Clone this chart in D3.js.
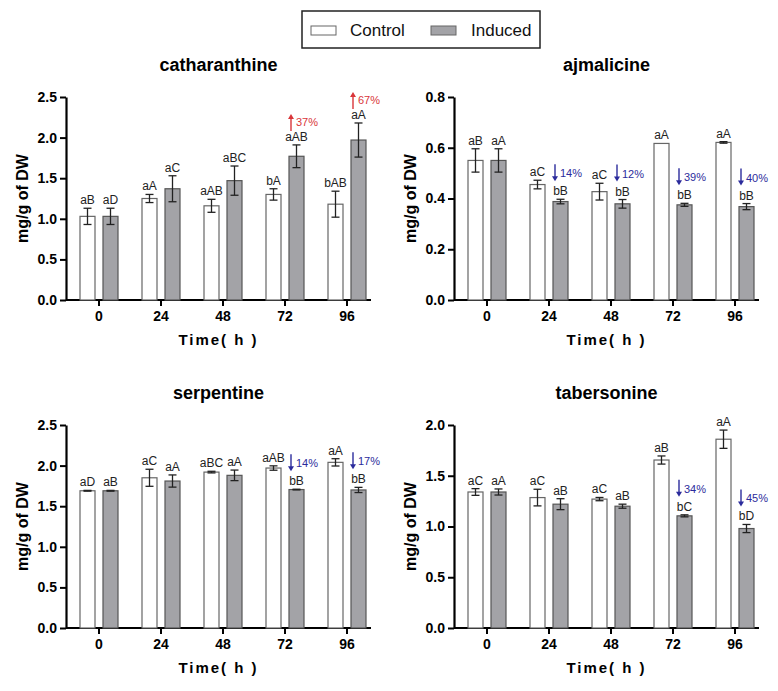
<!DOCTYPE html>
<html>
<head>
<meta charset="utf-8">
<script src="https://cdn.jsdelivr.net/npm/d3@7"></script>
<style>
  body { margin: 0; background: #fff; }
  svg { font-family: "Liberation Sans", Arial, sans-serif; }
</style>
</head>
<body>
<div class="canvas"></div>
<script>
const [width, height] = [778, 691];

const times = ['0', '24', '48', '72', '96'];

// catharanthine
const cathCtrl = [1.03, 1.25, 1.16, 1.30, 1.18];
const cathCtrlErr = [0.10, 0.05, 0.08, 0.07, 0.16];
const cathInd = [1.03, 1.37, 1.47, 1.77, 1.97];
const cathIndErr = [0.10, 0.16, 0.18, 0.14, 0.21];
const cathCtrlLet = ['aB', 'aA', 'aAB', 'bA', 'bAB'];
const cathIndLet = ['aD', 'aC', 'aBC', 'aAB', 'aA'];
const cathNotes = ['', '', '', '37%', '67%'];

// ajmalicine
const ajmCtrl = [0.55, 0.455, 0.427, 0.617, 0.621];
const ajmCtrlErr = [0.046, 0.017, 0.033, 0.0, 0.003];
const ajmInd = [0.55, 0.388, 0.379, 0.375, 0.368];
const ajmIndErr = [0.046, 0.009, 0.017, 0.006, 0.012];
const ajmCtrlLet = ['aB', 'aC', 'aC', 'aA', 'aA'];
const ajmIndLet = ['aA', 'bB', 'bB', 'bB', 'bB'];
const ajmNotes = ['', '14%', '12%', '39%', '40%'];

// serpentine
const serpCtrl = [1.69, 1.85, 1.92, 1.97, 2.04];
const serpCtrlErr = [0.005, 0.105, 0.01, 0.027, 0.045];
const serpInd = [1.69, 1.81, 1.88, 1.705, 1.70];
const serpIndErr = [0.005, 0.075, 0.065, 0.004, 0.032];
const serpCtrlLet = ['aD', 'aC', 'aBC', 'aAB', 'aA'];
const serpIndLet = ['aB', 'aA', 'aA', 'bB', 'bB'];
const serpNotes = ['', '', '', '14%', '17%'];

// tabersonine
const tabCtrl = [1.34, 1.285, 1.27, 1.655, 1.86];
const tabCtrlErr = [0.033, 0.082, 0.016, 0.04, 0.09];
const tabInd = [1.34, 1.22, 1.20, 1.105, 0.98];
const tabIndErr = [0.03, 0.054, 0.02, 0.01, 0.04];
const tabCtrlLet = ['aC', 'aC', 'aC', 'aB', 'aA'];
const tabIndLet = ['aA', 'aB', 'aB', 'bC', 'bD'];
const tabNotes = ['', '', '', '34%', '45%'];

const panels = [
  {title: 'catharanthine', ctrl: cathCtrl, ctrlErr: cathCtrlErr, ind: cathInd, indErr: cathIndErr,
   ctrlLet: cathCtrlLet, indLet: cathIndLet, notes: cathNotes, up: true, max: 2.5, step: 0.5, left: 66, top: 97},
  {title: 'ajmalicine', ctrl: ajmCtrl, ctrlErr: ajmCtrlErr, ind: ajmInd, indErr: ajmIndErr,
   ctrlLet: ajmCtrlLet, indLet: ajmIndLet, notes: ajmNotes, up: false, max: 0.8, step: 0.2, left: 454, top: 97},
  {title: 'serpentine', ctrl: serpCtrl, ctrlErr: serpCtrlErr, ind: serpInd, indErr: serpIndErr,
   ctrlLet: serpCtrlLet, indLet: serpIndLet, notes: serpNotes, up: false, max: 2.5, step: 0.5, left: 66, top: 425},
  {title: 'tabersonine', ctrl: tabCtrl, ctrlErr: tabCtrlErr, ind: tabInd, indErr: tabIndErr,
   ctrlLet: tabCtrlLet, indLet: tabIndLet, notes: tabNotes, up: false, max: 2.0, step: 0.5, left: 454, top: 425}
];

const svg = d3.select('.canvas')
  .append('svg')
  .attr('width', width)
  .attr('height', height);

const plotW = 305, plotH = 203;
const barW = 15, barGap = 8;
const ctrlFill = '#ffffff', indFill = '#a3a3a7';
const upColor = '#d9363a', downColor = '#2b2b9c';

// legend
const legend = svg.append('g');
legend.append('rect').attr('x', 302).attr('y', 11).attr('width', 238).attr('height', 37)
  .attr('fill', 'none').attr('stroke', '#222').attr('stroke-width', 1.5);
[['Control', ctrlFill, 311, 350], ['Induced', indFill, 431, 471]].forEach(([name, fill, sx, tx]) => {
  legend.append('rect').attr('x', sx).attr('y', 26).attr('width', 25).attr('height', 9)
    .attr('fill', fill).attr('stroke', '#666').attr('stroke-width', 1);
  legend.append('text').attr('x', tx).attr('y', 36).attr('font-size', 17).attr('fill', '#111').text(name);
});

panels.forEach(p => {
  const g = svg.append('g');
  const x0 = p.left, y0 = p.top;

  const x = d3.scaleBand().domain(times).range([x0 + 2, x0 + 312]);
  const y = d3.scaleLinear().domain([0, p.max]).range([y0 + plotH, y0]);
  const cx = t => x(t) + x.bandwidth() / 2;

  // title
  g.append('text').attr('x', x0 + plotW / 2).attr('y', y0 - 26)
    .attr('text-anchor', 'middle').attr('font-size', 18).attr('font-weight', 'bold')
    .text(p.title);

  // y axis
  const ticks = d3.range(0, p.max + 1e-9, p.step);
  const yAxis = g.append('g').attr('transform', `translate(${x0},0)`)
    .call(d3.axisLeft(y).tickValues(ticks).tickFormat(d3.format('.1f')).tickSize(6).tickSizeOuter(0));
  yAxis.select('.domain').attr('stroke', '#000').attr('stroke-width', 2.2);
  yAxis.selectAll('.tick line').attr('stroke', '#000').attr('stroke-width', 2);
  yAxis.selectAll('.tick text').attr('font-size', 14).attr('font-weight', 'bold')
    .attr('font-family', '"Liberation Sans", Arial, sans-serif').attr('fill', '#000').attr('x', -9);

  // x axis
  const xAxis = g.append('g').attr('transform', `translate(0,${y0 + plotH})`)
    .call(d3.axisBottom(x).tickSize(6).tickSizeOuter(0));
  xAxis.select('.domain').attr('d', `M${x0},0H${x0 + plotW}`).attr('stroke', '#000').attr('stroke-width', 2.2);
  xAxis.selectAll('.tick line').attr('stroke', '#000').attr('stroke-width', 2);
  xAxis.selectAll('.tick text').attr('font-size', 14).attr('font-weight', 'bold')
    .attr('font-family', '"Liberation Sans", Arial, sans-serif').attr('fill', '#000').attr('y', 11);

  // axis labels
  g.append('text').attr('transform', `translate(${x0 - 38},${y0 + plotH / 2}) rotate(-90)`)
    .attr('text-anchor', 'middle').attr('font-size', 16).attr('font-weight', 'bold').text('mg/g of DW');
  g.append('text').attr('x', x0 + plotW / 2).attr('y', y0 + plotH + 45)
    .attr('text-anchor', 'middle').attr('font-size', 15).attr('font-weight', 'bold')
    .attr('letter-spacing', 2).text('Time( h )');

  const series = [
    {vals: p.ctrl, errs: p.ctrlErr, lets: p.ctrlLet, fill: ctrlFill, stroke: '#666', dx: -barGap / 2 - barW},
    {vals: p.ind, errs: p.indErr, lets: p.indLet, fill: indFill, stroke: '#555', dx: barGap / 2}
  ];

  series.forEach(s => {
    const data = times.map((t, i) => ({t, v: s.vals[i], e: s.errs[i], l: s.lets[i]}));
    g.selectAll(null).data(data).enter().append('rect')
      .attr('x', d => cx(d.t) + s.dx)
      .attr('y', d => y(d.v))
      .attr('width', barW)
      .attr('height', d => y(0) - y(d.v))
      .attr('fill', s.fill).attr('stroke', s.stroke).attr('stroke-width', 1.2);

    const eb = g.selectAll(null).data(data.filter(d => d.e > 0)).enter().append('g')
      .attr('stroke', '#222').attr('stroke-width', 1.3);
    const bx = d => cx(d.t) + s.dx + barW / 2;
    eb.append('line').attr('x1', bx).attr('x2', bx).attr('y1', d => y(d.v + d.e)).attr('y2', d => y(d.v - d.e));
    eb.append('line').attr('x1', d => bx(d) - 4).attr('x2', d => bx(d) + 4).attr('y1', d => y(d.v + d.e)).attr('y2', d => y(d.v + d.e));
    eb.append('line').attr('x1', d => bx(d) - 4).attr('x2', d => bx(d) + 4).attr('y1', d => y(d.v - d.e)).attr('y2', d => y(d.v - d.e));

    g.selectAll(null).data(data).enter().append('text')
      .attr('x', d => bx(d))
      .attr('y', d => y(d.v + d.e) - 4)
      .attr('text-anchor', 'middle').attr('font-size', 12).attr('fill', '#222')
      .text(d => d.l);
  });

  // change annotations (arrow + percent) above induced bars
  const col = p.up ? upColor : downColor;
  const off = p.up ? 23 : 26;
  const notes = times.map((t, i) => ({t, n: p.notes[i], v: p.ind[i] + p.indErr[i]})).filter(d => d.n);
  const ng = g.selectAll(null).data(notes).enter().append('g')
    .attr('transform', d => `translate(${cx(d.t) + barGap / 2 + 2},${y(d.v) - off})`);
  ng.append('line').attr('x1', 0).attr('x2', 0)
    .attr('y1', p.up ? -5 : -9).attr('y2', p.up ? 9 : 5)
    .attr('stroke', col).attr('stroke-width', 1.4);
  ng.append('path')
    .attr('d', p.up ? 'M-3,-3L0,-8L3,-3Z' : 'M-3,3L0,8L3,3Z')
    .attr('fill', col);
  ng.append('text').attr('x', 5).attr('y', 4)
    .attr('font-size', 11).attr('fill', col)
    .text(d => d.n);
});
</script>
</body>
</html>
